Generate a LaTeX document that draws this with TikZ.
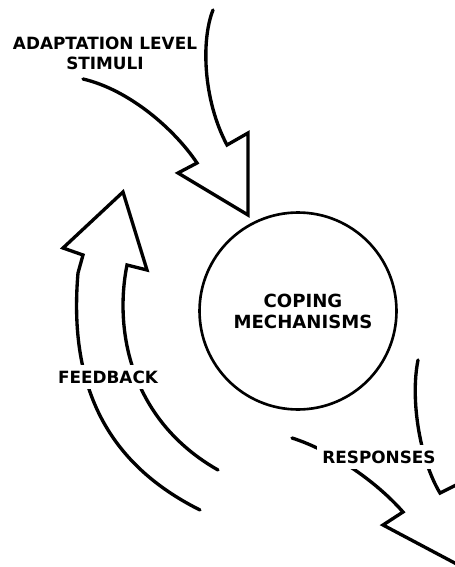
\documentclass[tikz,border=0pt]{standalone}
\usepackage{fontspec}
\setsansfont{DejaVu Sans}
\usepackage{tikz}
\usetikzlibrary{calc,positioning}
\tikzset{
lbl/.style={font=\sffamily\bfseries\fontsize{9.6}{11.4}\selectfont, align=center}, % label text
biglbl/.style={font=\sffamily\bfseries\fontsize{10.3}{12}\selectfont, align=center}, % text in the circle
gaplbl/.style={lbl, fill=white, inner sep=3pt}, % label that cuts the lines below it
bigarrow/.style={line width=1.9pt, line cap=round, line join=miter}, % outline of a block arrow
}

\begin{document}
\begin{tikzpicture}[x=0.02cm,y=-0.02cm]
   \useasboundingbox (0,0) rectangle (455,567);
   % centre circle
   \node[draw, circle, line width=1.5pt, minimum size=3.94cm] (coping) at (298,311) {};
   \node[biglbl] (copingtext) at (303,311) {COPING\\MECHANISMS};
   % incoming arrow
   \draw[bigarrow] (213,10) .. controls (201,40) and (203,100) .. (227,145) -- (248,133) -- (248,215)
       -- (178,173) -- (197,163) .. controls (175,130) and (130,90) .. (83,79);
   \node[lbl] (stimuli) at (105,53) {ADAPTATION LEVEL\\STIMULI};
   % feedback arrow
   \draw[bigarrow] (200,510) .. controls (110,465) and (68,390) .. (78,273) -- (83,255) -- (63,248)
       -- (123,192) -- (147,270) -- (127,265) .. controls (114,330) and (130,420) .. (218,470);
   \node[gaplbl] (feedback) at (108,377) {FEEDBACK};
   % outgoing arrow
   \draw[bigarrow] (292,438) .. controls (330,450) and (375,480) .. (403,512) -- (383,525) -- (500,587)
       -- (470,478) -- (440,493) .. controls (420,460) and (410,400) .. (418,360);
   \node[gaplbl] (responses) at (379,457) {RESPONSES};
\end{tikzpicture}
\end{document}
